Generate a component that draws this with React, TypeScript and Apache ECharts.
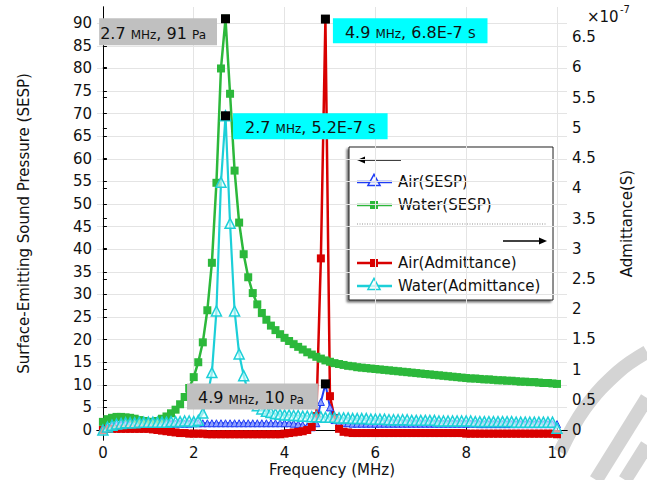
import React, { useEffect, useRef } from "react";
import * as echarts from "echarts";

const FONT = "DejaVu Sans";

// Frequency grid (MHz)
const frequencyMHz = [
  0, 0.1, 0.2, 0.3, 0.4, 0.5, 0.6, 0.7, 0.8, 0.9,
  1, 1.1, 1.2, 1.3, 1.4, 1.5, 1.6, 1.7, 1.8, 1.9,
  2, 2.1, 2.2, 2.3, 2.4, 2.5, 2.6, 2.7, 2.8, 2.9,
  3, 3.1, 3.2, 3.3, 3.4, 3.5, 3.6, 3.7, 3.8, 3.9,
  4, 4.1, 4.2, 4.3, 4.4, 4.5, 4.6, 4.7, 4.8, 4.9,
  5, 5.1, 5.2, 5.3, 5.4, 5.5, 5.6, 5.7, 5.8, 5.9,
  6, 6.1, 6.2, 6.3, 6.4, 6.5, 6.6, 6.7, 6.8, 6.9,
  7, 7.1, 7.2, 7.3, 7.4, 7.5, 7.6, 7.7, 7.8, 7.9,
  8, 8.1, 8.2, 8.3, 8.4, 8.5, 8.6, 8.7, 8.8, 8.9,
  9, 9.1, 9.2, 9.3, 9.4, 9.5, 9.6, 9.7, 9.8, 9.9, 10,
];

// Surface-emitting sound pressure (Pa) - left axis
const airSESP = [
  0.1, 0.6, 0.9, 1.1, 1.2, 1.3, 1.3, 1.4, 1.4, 1.4,
  1.4, 1.4, 1.4, 1.4, 1.4, 1.4, 1.4, 1.4, 1.4, 1.4,
  1.5, 1.5, 1.5, 1.5, 1.5, 1.5, 1.5, 1.5, 1.5, 1.5,
  1.5, 1.5, 1.5, 1.5, 1.5, 1.5, 1.5, 1.5, 1.5, 1.5,
  1.5, 1.5, 1.4, 1.3, 1.1, 0.8, 0.6, 1.5, 6.2, 10.2,
  5.0, 2.2, 1.7, 1.5, 1.5, 1.4, 1.4, 1.4, 1.4, 1.4,
  1.4, 1.4, 1.4, 1.4, 1.4, 1.4, 1.4, 1.4, 1.4, 1.4,
  1.4, 1.4, 1.4, 1.4, 1.4, 1.4, 1.4, 1.4, 1.4, 1.4,
  1.4, 1.4, 1.4, 1.3, 1.3, 1.3, 1.3, 1.3, 1.3, 1.3,
  1.3, 1.3, 1.3, 1.3, 1.3, 1.3, 1.3, 1.3, 1.3, 1.3, 1.3,
];
const waterSESP = [
  1.8, 2.4, 2.7, 2.9, 2.9, 2.8, 2.7, 2.5, 2.2, 2.0,
  1.8, 1.8, 2.0, 2.5, 3.0, 3.7, 4.5, 5.7, 7.3, 9.3,
  11.7, 15.0, 19.4, 26.5, 37.0, 54.7, 80.0, 91.0, 74.4, 57.4,
  45.9, 38.9, 33.8, 30.3, 27.8, 25.9, 24.4, 23.1, 22.1, 21.2,
  20.4, 19.7, 19.0, 18.4, 17.8, 17.2, 16.7, 16.2, 15.8, 15.4,
  15.1, 14.8, 14.6, 14.4, 14.2, 14.1, 13.9, 13.8, 13.7, 13.6,
  13.5, 13.4, 13.3, 13.2, 13.1, 13.0, 12.9, 12.8, 12.7, 12.6,
  12.5, 12.4, 12.3, 12.2, 12.1, 12.0, 11.9, 11.8, 11.7, 11.6,
  11.5, 11.4, 11.4, 11.3, 11.2, 11.2, 11.1, 11.0, 11.0, 10.9,
  10.9, 10.8, 10.7, 10.7, 10.6, 10.6, 10.5, 10.4, 10.4, 10.3, 10.2,
];

// Admittance (x1e-7 S) - right axis
const airAdmittance = [
  0.0, 0.02, 0.02, 0.02, 0.02, 0.02, 0.02, 0.02, 0.02, 0.02,
  0.02, 0.01, 0.0, -0.01, -0.02, -0.03, -0.04, -0.05, -0.05, -0.06,
  -0.06, -0.06, -0.06, -0.07, -0.07, -0.07, -0.07, -0.07, -0.07, -0.07,
  -0.07, -0.07, -0.07, -0.07, -0.07, -0.07, -0.07, -0.07, -0.07, -0.07,
  -0.06, -0.05, -0.04, -0.03, -0.02, 0.0, 0.05, 0.23, 2.84, 6.8,
  0.56, 0.2, 0.02, -0.03, -0.04, -0.05, -0.05, -0.05, -0.05, -0.05,
  -0.05, -0.05, -0.05, -0.05, -0.05, -0.05, -0.05, -0.05, -0.05, -0.05,
  -0.05, -0.05, -0.05, -0.05, -0.05, -0.05, -0.05, -0.05, -0.05, -0.05,
  -0.06, -0.06, -0.06, -0.06, -0.06, -0.06, -0.06, -0.06, -0.06, -0.06,
  -0.06, -0.06, -0.06, -0.06, -0.06, -0.06, -0.06, -0.06, -0.06, -0.06, -0.07,
];
const waterAdmittance = [
  0.0, 0.05, 0.08, 0.1, 0.11, 0.12, 0.12, 0.12, 0.13, 0.13,
  0.13, 0.13, 0.13, 0.13, 0.13, 0.14, 0.14, 0.14, 0.15, 0.15,
  0.14, 0.16, 0.28, 0.55, 0.95, 1.97, 4.1, 5.2, 3.42, 1.97,
  1.26, 0.9, 0.62, 0.48, 0.4, 0.35, 0.31, 0.29, 0.27, 0.26,
  0.25, 0.25, 0.24, 0.24, 0.23, 0.23, 0.22, 0.22, 0.22, 0.21,
  0.21, 0.21, 0.2, 0.2, 0.2, 0.19, 0.19, 0.19, 0.19, 0.18,
  0.18, 0.18, 0.18, 0.17, 0.17, 0.17, 0.17, 0.17, 0.16, 0.16,
  0.16, 0.16, 0.16, 0.16, 0.15, 0.15, 0.15, 0.15, 0.15, 0.15,
  0.15, 0.15, 0.14, 0.14, 0.14, 0.14, 0.14, 0.14, 0.14, 0.14,
  0.14, 0.13, 0.13, 0.13, 0.13, 0.13, 0.13, 0.13, 0.13, 0.13, 0.03,
];

// Tick values
const freqTicks = [0, 2, 4, 6, 8, 10];
const sespTicks = [0, 5, 10, 15, 20, 25, 30, 35, 40, 45, 50, 55, 60, 65, 70, 75, 80, 85, 90];
const admTicks = [0, 0.5, 1, 1.5, 2, 2.5, 3, 3.5, 4, 4.5, 5, 5.5, 6, 6.5];

// Peak annotations [freq, value]
const waterSESPPeak = [2.7, 91];
const airSESPPeak = [4.9, 10.2];
const airAdmPeak = [4.9, 6.8];
const waterAdmPeak = [2.7, 5.2];
const waterSESPPeakText = ["2.7", "91", "Pa"];
const airSESPPeakText = ["4.9", "10", "Pa"];
const airAdmPeakText = ["4.9", "6.8E-7", "S"];
const waterAdmPeakText = ["2.7", "5.2E-7", "S"];

const BLUE = "#1f3cf5";
const GREEN = "#2cb83b";
const RED = "#d80000";
const CYAN = "#1ccfd8";
const GRAY_BOX = "#c0c0c0";
const CYAN_BOX = "#00ffff";

const pairs = (ys: number[]) => frequencyMHz.map((f, i) => [f, ys[i]]);

const annot = (
  coord: number[],
  txt: string[],
  bg: string,
  position: string,
  distance: number,
  offset: number[],
  padding: number[]
) => ({
  coord,
  symbol: "rect",
  symbolSize: 9,
  itemStyle: { color: "#000" },
  label: {
    show: true,
    position,
    distance,
    offset,
    backgroundColor: bg,
    padding,
    formatter: `{a|${txt[0]} }{b|MHz}{a|, ${txt[1]} }{b|${txt[2]}}`,
    rich: {
      a: { fontSize: 16, fontFamily: FONT, color: "#111", lineHeight: 18, verticalAlign: "bottom" },
      b: { fontSize: 12, fontFamily: FONT, color: "#111", lineHeight: 18, verticalAlign: "bottom" },
    },
  },
});

const tri = (cx: number, cy: number, s: number) => [
  [cx, cy - s * 0.6],
  [cx - s * 0.55, cy + s * 0.4],
  [cx + s * 0.55, cy + s * 0.4],
];

const legendEntries = [
  { name: "Air(SESP)", color: BLUE, marker: "tri", y: 182 },
  { name: "Water(SESP)", color: GREEN, marker: "sq", y: 205 },
  { name: "Air(Admittance)", color: RED, marker: "sq", y: 263 },
  { name: "Water(Admittance)", color: CYAN, marker: "tri", y: 286 },
];

function buildLegend() {
  const children: any[] = [
    {
      type: "rect",
      shape: { x: 349, y: 147, width: 204, height: 153 },
      style: {
        fill: "#fff",
        stroke: "#222",
        lineWidth: 1,
        shadowBlur: 2,
        shadowOffsetX: -2,
        shadowOffsetY: 2,
        shadowColor: "rgba(0,0,0,0.55)",
      },
    },
    { type: "line", shape: { x1: 360, y1: 160, x2: 401, y2: 160 }, style: { stroke: "#000", lineWidth: 1.5 } },
    { type: "polygon", shape: { points: [[357, 160], [365, 156.5], [365, 163.5]] }, style: { fill: "#000" } },
    {
      type: "line",
      shape: { x1: 357, y1: 224, x2: 547, y2: 224 },
      style: { stroke: "#777", lineWidth: 0.8, lineDash: [1, 1.5] },
    },
    { type: "line", shape: { x1: 503, y1: 241, x2: 544, y2: 241 }, style: { stroke: "#000", lineWidth: 1.5 } },
    { type: "polygon", shape: { points: [[547, 241], [539, 237.5], [539, 244.5]] }, style: { fill: "#000" } },
  ];
  legendEntries.forEach((e) => {
    children.push({
      type: "line",
      shape: { x1: 357, y1: e.y, x2: 392, y2: e.y },
      style: { stroke: e.color, lineWidth: 2.5 },
    });
    if (e.marker === "tri") {
      children.push({
        type: "polygon",
        shape: { points: tri(374, e.y - 1, 11) },
        style: { fill: "rgba(255,255,255,0.75)", stroke: e.color, lineWidth: 1.5 },
      });
    } else {
      children.push({
        type: "rect",
        shape: { x: 370, y: e.y - 4, width: 8, height: 8 },
        style: { fill: e.color },
      });
    }
    children.push({
      type: "text",
      x: 398,
      y: e.y,
      style: { text: e.name, fontSize: 15, fontFamily: FONT, fill: "#111", verticalAlign: "middle" },
    });
  });
  return { type: "group", z: 100, children };
}

const watermark = {
  type: "group",
  z: -10,
  children: [
    {
      type: "polyline",
      shape: { points: [[560, 452], [585, 408], [618, 372], [647, 352]], smooth: 0.4 },
      style: { stroke: "#d4d4d4", lineWidth: 14, fill: null },
    },
    {
      type: "polyline",
      shape: { points: [[647, 398], [596, 480]] },
      style: { stroke: "#d4d4d4", lineWidth: 14, fill: null },
    },
    {
      type: "polyline",
      shape: { points: [[647, 445], [625, 480]] },
      style: { stroke: "#d4d4d4", lineWidth: 14, fill: null },
    },
  ],
};

const axisText = { fontSize: 15, fontFamily: FONT, color: "#111" };
const gridLine = { show: true, lineStyle: { color: "#e4e4e4", width: 1 } };
const blackLine = { show: true, lineStyle: { color: "#000", width: 1 } };

const option: any = {
  animation: false,
  backgroundColor: "#fff",
  textStyle: { fontFamily: FONT },
  grid: { left: 97, right: 80, top: 7, bottom: 40, containLabel: false, outerBoundsMode: "none" },
  xAxis: [
    {
      type: "value",
      min: -0.13,
      max: 10.22,
      position: "bottom",
      axisLine: blackLine,
      axisTick: { show: true, inside: true, length: 4, customValues: freqTicks, lineStyle: { color: "#000" } },
      axisLabel: { ...axisText, customValues: freqTicks, margin: 6, lineHeight: 14 },
      splitLine: gridLine,
      name: "Frequency (MHz)",
      nameLocation: "middle",
      nameGap: 22,
      nameMoveOverlap: false,
      nameTextStyle: { ...axisText, verticalAlign: "top", lineHeight: 15 },
    },
    {
      type: "value",
      min: -0.13,
      max: 10.22,
      position: "top",
      axisLine: blackLine,
      axisTick: { show: true, inside: true, length: 4, customValues: freqTicks, lineStyle: { color: "#000" } },
      axisLabel: { show: false },
      splitLine: { show: false },
    },
  ],
  yAxis: [
    {
      type: "value",
      min: -2.21,
      max: 93.6,
      position: "left",
      axisLine: blackLine,
      axisTick: { show: true, inside: true, length: 4, customValues: sespTicks, lineStyle: { color: "#000" } },
      axisLabel: { ...axisText, customValues: sespTicks, margin: 5 },
      splitLine: gridLine,
      name: "Surface-Emitting Sound Pressure (SESP)",
      nameLocation: "middle",
      nameGap: 66,
      nameTextStyle: axisText,
    },
    {
      type: "value",
      min: -0.165,
      max: 7.0,
      position: "right",
      axisLine: blackLine,
      axisTick: { show: true, inside: false, length: 4, customValues: admTicks, lineStyle: { color: "#000" } },
      axisLabel: { ...axisText, customValues: admTicks, margin: 5 },
      splitLine: { show: false },
      name: "Admittance(S)",
      nameLocation: "middle",
      nameGap: 52,
      nameTextStyle: axisText,
    },
  ],
  graphic: [
    watermark,
    buildLegend(),
    {
      type: "text",
      x: 587,
      y: 17,
      style: { text: "×10", fontSize: 15, fontFamily: FONT, fill: "#111", verticalAlign: "middle" },
    },
    {
      type: "text",
      x: 620,
      y: 9,
      style: { text: "-7", fontSize: 10, fontFamily: FONT, fill: "#111", verticalAlign: "middle" },
    },
  ],
  series: [
    {
      name: "Air(SESP)",
      type: "line",
      xAxisIndex: 0,
      yAxisIndex: 0,
      data: pairs(airSESP),
      symbol: "triangle",
      symbolSize: 7,
      silent: true,
      lineStyle: { color: BLUE, width: 2 },
      itemStyle: { color: "#8fa0ff", borderColor: BLUE, borderWidth: 1 },
      markPoint: {
        silent: true,
        data: [annot(airSESPPeak, airSESPPeakText, GRAY_BOX, "left", 3, [0, 12.6], [4, 14, 4, 11])],
      },
    },
    {
      name: "Water(SESP)",
      type: "line",
      xAxisIndex: 0,
      yAxisIndex: 0,
      data: pairs(waterSESP),
      symbol: "rect",
      symbolSize: 8,
      silent: true,
      lineStyle: { color: GREEN, width: 2.5 },
      itemStyle: { color: GREEN },
      markPoint: {
        silent: true,
        data: [annot(waterSESPPeak, waterSESPPeakText, GRAY_BOX, "left", 4, [0, 13], [5, 11, 4, 1])],
      },
    },
    {
      name: "Air(Admittance)",
      type: "line",
      xAxisIndex: 0,
      yAxisIndex: 1,
      data: pairs(airAdmittance),
      symbol: "rect",
      symbolSize: 8,
      silent: true,
      lineStyle: { color: RED, width: 2.5 },
      itemStyle: { color: RED },
      markPoint: {
        silent: true,
        data: [annot(airAdmPeak, airAdmPeakText, CYAN_BOX, "right", 3, [0, 11.6], [4, 12, 3, 12])],
      },
    },
    {
      name: "Water(Admittance)",
      type: "line",
      xAxisIndex: 0,
      yAxisIndex: 1,
      data: pairs(waterAdmittance),
      symbol: "triangle",
      symbolSize: 10,
      silent: true,
      lineStyle: { color: CYAN, width: 2.2 },
      itemStyle: { color: "rgba(230,255,255,0.6)", borderColor: CYAN, borderWidth: 1.5 },
      markPoint: {
        silent: true,
        data: [annot(waterAdmPeak, waterAdmPeakText, CYAN_BOX, "right", 3, [0, 10.4], [4, 12, 4, 12])],
      },
    },
  ],
};

export default function App() {
  const ref = useRef<HTMLDivElement>(null);
  useEffect(() => {
    const chart = echarts.init(ref.current as HTMLDivElement, null, { renderer: "svg" });
    chart.setOption(option);
    return () => chart.dispose();
  }, []);
  return (
    <div
      ref={ref}
      style={{ position: "fixed", left: 0, top: 0, width: 647, height: 480, background: "#fff" }}
    />
  );
}
